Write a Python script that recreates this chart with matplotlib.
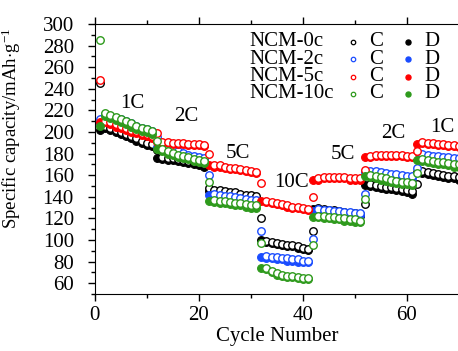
import numpy as np
import matplotlib
matplotlib.use("Agg")
import matplotlib.pyplot as plt
from matplotlib.ticker import MultipleLocator

plt.rcParams["font.family"] = "Liberation Serif"
plt.rcParams["mathtext.fontset"] = "custom"
plt.rcParams["mathtext.rm"] = "Liberation Serif"
plt.rcParams["mathtext.it"] = "Liberation Serif:italic"

cycles = np.arange(1, 71)

# NCM-0c
ncm0_d = [202, 204, 202, 200, 198, 196, 194, 192, 190, 188, 187,
          176, 175, 174, 174, 173, 172, 171, 170, 169, 168,
          145, 144, 144, 143, 142, 142, 141, 140, 140, 139,
          100, 98, 97, 96, 95, 94, 94, 93, 92, 91,
          129, 128, 127, 126, 126, 125, 124, 123, 123, 122,
          151, 150, 149, 148, 147, 147, 146, 145, 144, 143,
          163, 162, 161, 160, 159, 158, 157, 157, 156]
ncm0_c = [245, 206, 204, 202, 200, 198, 196, 194, 192, 190, 189,
          183, 177, 176, 176, 175, 174, 173, 172, 171, 170,
          148, 146, 146, 145, 144, 144, 143, 142, 142, 141,
          120, 99, 98, 97, 96, 95, 95, 94, 93, 92,
          108, 130, 129, 128, 128, 127, 126, 125, 125, 124,
          133, 152, 151, 150, 149, 149, 148, 147, 146, 145,
          152, 164, 163, 162, 161, 160, 159, 159, 158]

# NCM-2c
ncm2_d = [208, 215, 213, 211, 210, 208, 206, 204, 202, 201, 199,
          186, 184, 183, 181, 180, 179, 177, 176, 175, 174,
          142, 141, 140, 139, 139, 138, 137, 136, 135, 135,
          84, 83, 83, 82, 82, 81, 81, 80, 80, 80,
          127, 127, 126, 126, 125, 125, 124, 124, 123, 123,
          163, 162, 162, 161, 160, 159, 159, 158, 157, 157,
          178, 177, 177, 176, 176, 175, 175, 174, 174]
ncm2_c = [212, 217, 215, 213, 212, 210, 208, 206, 204, 203, 201,
          195, 186, 185, 183, 182, 181, 179, 178, 177, 176,
          160, 143, 142, 141, 141, 140, 139, 138, 137, 137,
          108, 85, 84, 84, 83, 83, 82, 82, 81, 81,
          101, 129, 128, 128, 127, 127, 126, 126, 125, 125,
          143, 164, 164, 163, 162, 161, 161, 160, 159, 159,
          167, 180, 179, 178, 178, 177, 177, 176, 176]

# NCM-5c
ncm5_d = [209, 209, 207, 205, 204, 202, 200, 199, 197, 196, 194,
          191, 190, 190, 189, 189, 189, 188, 188, 188, 187,
          169, 168, 168, 167, 166, 166, 165, 164, 163, 162,
          136, 135, 134, 133, 132, 131, 130, 130, 129, 128,
          156, 156, 157, 157, 157, 157, 157, 156, 156, 156,
          177, 177, 178, 178, 178, 178, 178, 178, 177, 177,
          189, 190, 189, 189, 188, 188, 187, 187, 186]
ncm5_c = [248, 210, 209, 207, 206, 204, 202, 201, 199, 198, 196,
          199, 191, 191, 190, 190, 190, 189, 189, 189, 188,
          180, 169, 169, 168, 167, 167, 166, 165, 164, 163,
          153, 136, 135, 134, 133, 132, 131, 131, 130, 129,
          140, 157, 158, 158, 158, 158, 158, 157, 157, 157,
          165, 178, 179, 179, 179, 179, 179, 179, 178, 178,
          182, 191, 190, 190, 189, 189, 188, 188, 187]

# NCM-10c
ncm10_d = [206, 215, 213, 211, 209, 207, 205, 203, 201, 200, 198,
           184, 182, 180, 179, 177, 176, 175, 173, 172, 171,
           136, 135, 134, 134, 133, 132, 132, 131, 130, 130,
           74, 73, 70, 68, 67, 66, 66, 65, 64, 64,
           121, 121, 120, 120, 119, 119, 118, 118, 117, 117,
           159, 158, 157, 156, 155, 154, 153, 152, 152, 151,
           174, 173, 172, 171, 170, 170, 169, 168, 168]
ncm10_c = [285, 218, 216, 214, 212, 210, 208, 206, 204, 203, 201,
           192, 184, 182, 181, 179, 178, 177, 175, 174, 173,
           154, 137, 136, 136, 135, 134, 134, 133, 132, 132,
           97, 74, 71, 69, 68, 67, 67, 66, 65, 65,
           95, 122, 122, 121, 121, 120, 120, 119, 119, 118,
           138, 160, 159, 158, 157, 156, 155, 154, 154, 153,
           162, 175, 174, 173, 172, 172, 171, 170, 170]

names = ["NCM-0c", "NCM-2c", "NCM-5c", "NCM-10c"]
colors = ["#000000", "#1a4cff", "#ff0000", "#2e9a1c"]
charge = [ncm0_c, ncm2_c, ncm5_c, ncm10_c]
discharge = [ncm0_d, ncm2_d, ncm5_d, ncm10_d]

rate_labels = ["1C", "2C", "5C", "10C", "5C", "2C", "1C"]
rate_x = [7.2, 17.6, 27.6, 37.9, 47.8, 57.4, 66.8]
rate_y = [226, 214, 180.5, 153, 179, 199, 204.6]

fig = plt.figure(figsize=(4.58, 3.51), dpi=100)
ax = fig.add_axes([0.2068, 0.1624, 0.795, 0.7692])

for name, col, c, d in zip(names, colors, charge, discharge):
    ax.plot(cycles, d, "o", ms=5.6, mfc=col, mec=col, mew=0.8, zorder=2)
    ax.plot(cycles, c, "o", ms=5.4, mfc="white", mec=col, mew=1.0, zorder=2)

for lab, x, y in zip(rate_labels, rate_x, rate_y):
    ax.text(x, y, lab, fontsize=15, ha="center", va="center")

# legend block
ly = [0.934, 0.869, 0.805, 0.741]
for name, col, y in zip(names, colors, ly):
    ax.text(0.4255, y, name, transform=ax.transAxes, fontsize=15, ha="left", va="center")
    ax.plot([0.710], [y], "o", ms=3.2, mfc="white", mec=col, mew=0.9, transform=ax.transAxes)
    ax.text(0.774, y, "C", transform=ax.transAxes, fontsize=15, ha="center", va="center")
    ax.plot([0.8615], [y], "o", ms=3.6, mfc=col, mec=col, transform=ax.transAxes)
    ax.text(0.926, y, "D", transform=ax.transAxes, fontsize=15, ha="center", va="center")

ax.set_xlim(0, 70)
ax.set_ylim(50, 300)
ax.xaxis.set_major_locator(MultipleLocator(20))
ax.xaxis.set_minor_locator(MultipleLocator(10))
ax.yaxis.set_major_locator(MultipleLocator(20))
ax.yaxis.set_minor_locator(MultipleLocator(10))
ax.set_yticks(np.arange(60, 301, 20))
ax.tick_params(which="both", direction="out", top=True, labelsize=15, width=1)
ax.tick_params(which="major", length=5)
ax.tick_params(which="minor", length=3)
ax.tick_params(axis="y", pad=10)
ax.tick_params(axis="x", pad=4)
ax.spines["right"].set_visible(False)

ax.set_xlabel("Cycle Number", fontsize=15, labelpad=1)
ax.set_ylabel("Specific capacity/mAh$\\cdot$g$^{-1}$", fontsize=13.5)
ax.yaxis.set_label_coords(-0.198, 0.615)

fig.savefig("out.png", dpi=100)
